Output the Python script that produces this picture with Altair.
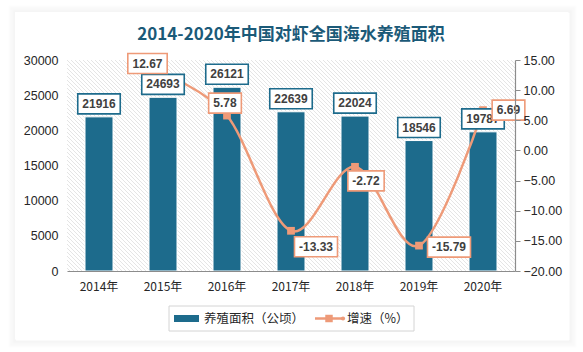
import altair as alt
import pandas as pd

# ---------------- data ----------------
years = ["2014年", "2015年", "2016年", "2017年", "2018年", "2019年", "2020年"]
area = [21916, 24693, 26121, 22639, 22024, 18546, 19787]
growth_years = ["2015年", "2016年", "2017年", "2018年", "2019年", "2020年"]
growth = [12.67, 5.78, -13.33, -2.72, -15.79, 6.69]
series_names = ["养殖面积（公顷）", "增速（%）"]
title_text = "2014-2020年中国对虾全国海水养殖面积"
left_ticks = [0, 5000, 10000, 15000, 20000, 25000, 30000]
right_ticks = [-20, -15, -10, -5, 0, 5, 10, 15]

# ---------------- layout / style ----------------
W, H = 448, 211
BLUE = "#1d6b8c"
SALMON = "#ee9a78"
FONT = "Noto Sans CJK SC"
NUMFONT = "Liberation Sans"
TXT = "#262626"
# label box placement (pixel offset of box centre from point)
label_offsets = {
    "2015年": (-15.5, -10.5),
    "2016年": (-2, -12.5),
    "2017年": (25, 16),
    "2018年": (11, 14),
    "2019年": (30, 1.5),
    "2020年": (25.5, 0),
}

bar_df = pd.DataFrame({"year": years, "area": area})
bar_df["lbl"] = [str(v) for v in area]
line_df = pd.DataFrame({"year": growth_years, "g": growth})
line_df["lbl"] = [f"{v:.2f}" for v in growth]
one = pd.DataFrame({"k": [0]})


def X(axis=None):
    return alt.X("year:N", sort=years,
                 scale=alt.Scale(domain=years, paddingInner=0, paddingOuter=0),
                 axis=axis)


def YL(axis=None):
    return alt.Y("area:Q", scale=alt.Scale(domain=[0, 30000], nice=False, zero=True), axis=axis)


def YR(axis=None):
    return alt.Y("g:Q", scale=alt.Scale(domain=[-20, 15], nice=False, zero=False), axis=axis)


W_EXPR = ("6.7*length(replace(replace(datum.lbl, '.', ''), '-', '')) + "
          "3.6*(length(datum.lbl) - length(replace(replace(datum.lbl, '.', ''), '-', ''))) + 9")
SHP_EXPR = ("'M-1,' + (-20/datum.bw) + 'L1,' + (-20/datum.bw) + 'L1,' + (20/datum.bw) + "
            "'L-1,' + (20/datum.bw) + 'Z'")


def with_box(ch):
    return ch.transform_calculate(bw=W_EXPR).transform_calculate(
        sz="datum.bw*datum.bw", shp=SHP_EXPR)


layers = []

# card shadow + card
for i in range(1, 9):
    layers.append(
        alt.Chart(one).mark_rect(fillOpacity=0, stroke="#000000",
                                 strokeOpacity=0.05 * (1 - i / 9.0), strokeWidth=1)
        .encode(x=alt.value(-52 - i + 1), x2=alt.value(501 + i + 1),
                y=alt.value(-48 - i + 1), y2=alt.value(279 + i + 1))
    )
layers.append(
    alt.Chart(one).mark_rect(fill="white")
    .encode(x=alt.value(-52), x2=alt.value(501), y=alt.value(-48), y2=alt.value(279))
)

# hatched plot background
hatch = (
    alt.Chart(alt.sequence(-55, 115, as_="k"))
    .transform_calculate(hx="datum.k*4", hx2="datum.k*4 + 211", hy="211", hy2="0")
    .mark_rule(clip=True, stroke="#dadada", strokeWidth=0.7)
    .encode(
        x=alt.X("hx:Q", scale=alt.Scale(domain=[0, W], nice=False, zero=False), axis=None),
        x2="hx2:Q",
        y=alt.Y("hy:Q", scale=alt.Scale(domain=[0, H], nice=False, zero=False), axis=None),
        y2="hy2:Q",
    )
)
layers.append(hatch)

# title
layers.append(
    alt.Chart(one).mark_text(text=title_text, font=FONT, fontSize=17, fontWeight="bold",
                             color="#1b5a78", align="center", baseline="middle")
    .encode(x=alt.value(224), y=alt.value(-25))
)

# bars with axes
bars = alt.Chart(bar_df).mark_bar(size=28, color=BLUE, stroke="white", strokeWidth=1).encode(
    x=X(alt.Axis(title=None, labelAngle=0, ticks=False, domainColor="#8c8c8c",
                 domainWidth=1.2, labelPadding=10, labelFont=FONT, labelFontSize=12,
                 labelColor=TXT, zindex=1)),
    y=YL(alt.Axis(title=None, orient="left", values=left_ticks, format="d", domain=False,
                  ticks=False, grid=False, labelPadding=9, labelFont=NUMFONT,
                  labelFontSize=12.5, labelColor=TXT, zindex=1)),
)
layers.append(bars)

# growth line + markers
line = alt.Chart(line_df).mark_line(interpolate="cardinal", color=SALMON, strokeWidth=2.5).encode(
    x=X(),
    y=YR(alt.Axis(title=None, orient="right", values=right_ticks, format=".2f",
                  domainColor="#8c8c8c", tickColor="#8c8c8c", tickSize=5, domainWidth=1.2,
                  grid=False, labelPadding=3, labelFont=NUMFONT, labelFontSize=12.5,
                  labelColor=TXT, zindex=1)),
)
layers.append(line)
layers.append(
    alt.Chart(line_df).mark_point(shape="square", filled=True, color=SALMON, size=60, opacity=1)
    .encode(x=X(), y=YR())
)

# bar value labels
layers.append(
    with_box(alt.Chart(bar_df)).mark_point(filled=True, fill="white", stroke=BLUE,
                                           strokeWidth=1.6, opacity=1, yOffset=-13)
    .encode(x=X(), y=YL(), shape=alt.Shape("shp:N", scale=None),
            size=alt.Size("sz:Q", scale=None))
)
layers.append(
    alt.Chart(bar_df).mark_text(font=NUMFONT, fontSize=12, fontWeight="bold", color="#404040",
                                yOffset=-13, baseline="middle", align="center")
    .encode(x=X(), y=YL(), text="lbl:N")
)

# growth value labels
for yr, (dx, dy) in label_offsets.items():
    base = alt.Chart(line_df).transform_filter(alt.datum.year == yr)
    layers.append(
        with_box(base).mark_point(filled=True, fill="white", stroke=SALMON, strokeWidth=1.6,
                                  opacity=1, xOffset=dx, yOffset=dy)
        .encode(x=X(), y=YR(), shape=alt.Shape("shp:N", scale=None),
                size=alt.Size("sz:Q", scale=None))
    )
    layers.append(
        base.mark_text(font=NUMFONT, fontSize=12, fontWeight="bold", color="#404040",
                       xOffset=dx, yOffset=dy, baseline="middle", align="center")
        .encode(x=X(), y=YR(), text="lbl:N")
    )

# legend
layers.append(
    alt.Chart(one).mark_rect(fill="white", stroke="#d4d4d4", strokeWidth=1)
    .encode(x=alt.value(102), x2=alt.value(347), y=alt.value(246), y2=alt.value(271))
)
layers.append(
    alt.Chart(one).mark_rect(fill=BLUE)
    .encode(x=alt.value(107), x2=alt.value(132), y=alt.value(255), y2=alt.value(262))
)
layers.append(
    alt.Chart(one).mark_text(text=series_names[0], font=FONT, fontSize=12.5, color=TXT,
                             align="left", baseline="middle")
    .encode(x=alt.value(137), y=alt.value(258.5))
)
layers.append(
    alt.Chart(one).mark_rule(stroke=SALMON, strokeWidth=2.5)
    .encode(x=alt.value(248), x2=alt.value(276), y=alt.value(258.5))
)
layers.append(
    alt.Chart(one).mark_point(shape="square", filled=True, color=SALMON, size=56, opacity=1)
    .encode(x=alt.value(262), y=alt.value(258.5))
)
layers.append(
    alt.Chart(one).mark_point(shape="circle", filled=True, color=SALMON, size=18, opacity=1)
    .encode(x=alt.value(276), y=alt.value(258.5))
)
layers.append(
    alt.Chart(one).mark_text(text=series_names[1], font=FONT, fontSize=12.5, color=TXT,
                             align="left", baseline="middle")
    .encode(x=alt.value(280), y=alt.value(258.5))
)

chart = (
    alt.layer(*layers)
    .resolve_scale(x="independent", y="independent")
    .properties(width=W, height=H,
                autosize=alt.AutoSizeParams(type="none"),
                padding={"left": 67, "top": 60, "right": 68, "bottom": 81},
                background="white")
    .configure_view(stroke=None)
)

chart.save("out.html", embed_options={"renderer": "svg", "actions": False})
